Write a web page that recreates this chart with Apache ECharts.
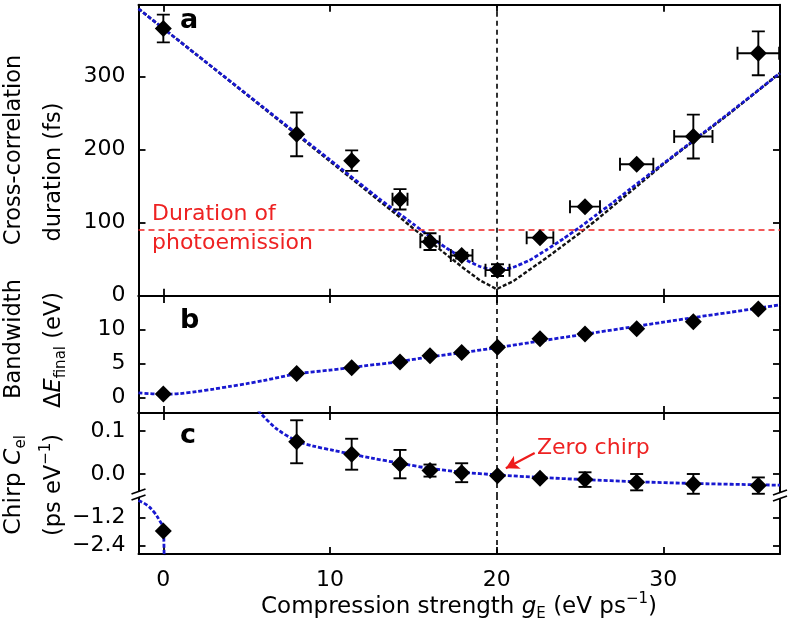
<!DOCTYPE html>
<html><head><meta charset="utf-8">
<script src="https://cdn.jsdelivr.net/npm/echarts@6/dist/echarts.min.js"></script>
<style>html,body{margin:0;padding:0;background:#fff}#c{width:788px;height:633px}</style>
</head><body><div id="c"></div>
<script>
// ---- data ----
const gE        = [0, 8.0, 11.3, 14.2, 16.0, 17.9, 20.05, 22.6, 25.3, 28.4, 31.8, 35.7];
const gEerr     = [0, 0, 0, 0.45, 0.58, 0.65, 0.72, 0.8, 0.9, 1.0, 1.15, 1.25];
const duration  = [366, 221, 185, 132, 74, 55, 35, 79.5, 122, 180, 218, 332];
const durationErr = [19, 30, 14, 14, 11.5, 4, 8, 0, 0, 0, 30, 30];
const bandwidth = [0.5, 3.5, 4.35, 5.2, 6.1, 6.6, 7.35, 8.6, 9.3, 10.1, 11.1, 13.0];
const chirp     = [-1.78, 0.075, 0.046, 0.023, 0.008, 0.003, -0.004, -0.01, -0.013, -0.019, -0.023, -0.027];
const chirpErr  = [0, 0.05, 0.036, 0.033, 0.014, 0.022, 0, 0, 0.017, 0.019, 0.023, 0.019];

const durFitX   = [-1.49, 2, 6, 10, 13, 14, 15, 16, 17, 18, 19, 20, 21, 22, 23, 24, 25, 26, 27, 28, 30, 32, 34, 37];
const durFitBlue  = [393, 330, 258, 186, 132, 115, 98, 81, 65, 51, 40, 35, 39, 49, 63, 78, 94, 111, 128, 146, 181, 216, 251, 305];
const durFitBlack = [393, 330, 257, 184, 129, 111, 92, 74, 56, 38, 21, 9, 20, 36, 52, 69, 86, 104, 123, 142, 180, 215, 250, 305];

const bwFitX = [-1.49, 0, 1, 2, 3, 4, 5, 6, 8, 10, 12, 14, 16, 18, 20, 22, 24, 26, 28, 30, 32, 34, 37];
const bwFitY = [0.65, 0.45, 0.55, 0.85, 1.2, 1.6, 2.0, 2.45, 3.45, 4.0, 4.6, 5.2, 5.95, 6.6, 7.3, 8.05, 8.8, 9.55, 10.3, 11.05, 11.8, 12.5, 13.6];

const chirpFitX = [5.5, 5.82, 6.8, 8, 9, 10.2, 11.3, 12.5, 14.2, 16, 18, 20, 22.6, 25.3, 28.4, 31.8, 37];
const chirpFitY = [0.16, 0.142, 0.105, 0.077, 0.065, 0.055, 0.046, 0.037, 0.025, 0.013, 0.004, -0.002, -0.008, -0.013, -0.018, -0.022, -0.026];
const chirpLowX = [-1.49, -1.0, -0.58, -0.18, 0.0, 0.02, 0.035, 0.05];
const chirpLowY = [-0.47, -0.66, -0.95, -1.38, -1.62, -1.78, -2.3, -2.9];

const xTicks = [0, 10, 20, 30];
const yTicksA = [0, 100, 200, 300];
const yTicksB = [0, 5, 10];
const yTicksC = [0, 0.1];
const yTicksCLow = [-2.4, -1.2];
const photoemission = 90;
const zeroChirpX = 20;

// ---- layout ----
const F = 'DejaVu Sans';
const L = 138.5, W = 641.5;
const XMIN = -1.49, XMAX = 37.0;
const grids = [
  {left: L, top: 4.7, width: W, height: 291},
  {left: L, top: 296, width: W, height: 117},
  {left: L, top: 413, width: W, height: 84},
  {left: L, top: 497, width: W, height: 57}
];
const yRanges = [[0, 398.6], [-2.31, 14.9], [-0.0535, 0.1419], [-2.764, -0.321]];
const yTickSets = [yTicksA, yTicksB, yTicksC, yTicksCLow];
const yFmt = [
  v => String(v), v => String(v), v => v.toFixed(1),
  v => (v < 0 ? '\u2212' : '') + Math.abs(v).toFixed(1)
];

const lab = {fontFamily: F, fontSize: 22, color: '#000'};

const xAxis = [], yAxis = [];
grids.forEach((g, i) => {
  ['bottom', 'top'].forEach(pos => {
    const hidden = (i === 2 && pos === 'bottom') || (i === 3 && pos === 'top');
    xAxis.push({
      type: 'value', gridIndex: i, position: pos, min: XMIN, max: XMAX,
      splitLine: {show: false},
      axisLine: {show: !hidden, onZero: false, lineStyle: {color: '#000', width: 2}},
      axisTick: {show: !hidden, inside: true, length: 7, lineStyle: {color: '#000', width: 1.8}, customValues: xTicks},
      axisLabel: Object.assign({show: i === 3 && pos === 'bottom', margin: 15, customValues: xTicks}, lab)
    });
  });
  ['left', 'right'].forEach(pos => {
    yAxis.push({
      type: 'value', gridIndex: i, position: pos, min: yRanges[i][0], max: yRanges[i][1],
      splitLine: {show: false},
      axisLine: {show: true, onZero: false, lineStyle: {color: '#000', width: 2}},
      axisTick: {show: true, inside: true, length: 7, lineStyle: {color: '#000', width: 1.8}, customValues: yTickSets[i]},
      axisLabel: Object.assign({show: pos === 'left', margin: 13, customValues: yTickSets[i], formatter: yFmt[i]}, lab)
    });
  });
});

const zip = (xs, ys) => xs.map((x, k) => [x, ys[k]]);
const blue = {color: '#1818d0', width: 2.8, type: [4, 2]};
const vline = {
  silent: true, symbol: 'none', animation: false, label: {show: false},
  lineStyle: {color: '#000', width: 1.6, type: [5, 4]},
  data: [{xAxis: zeroChirpX}]
};
const diamond = (xi, yi, data) => ({
  type: 'scatter', xAxisIndex: xi, yAxisIndex: yi, data, symbol: 'diamond', symbolSize: [17, 17],
  itemStyle: {color: '#000', opacity: 1}, z: 6, silent: true
});
const errBars = (xi, yi, data) => ({
  type: 'custom', xAxisIndex: xi, yAxisIndex: yi, data, z: 5, silent: true, clip: true,
  renderItem: (params, api) => {
    const x = api.value(0), y = api.value(1), ex = api.value(2), ey = api.value(3);
    const c = api.coord([x, y]);
    const st = {stroke: '#000', lineWidth: 1.9, opacity: 1};
    const ch = [];
    const cap = 6.5;
    if (ey > 0) {
      const t = api.coord([x, y + ey]), b = api.coord([x, y - ey]);
      ch.push({type: 'line', shape: {x1: c[0], y1: t[1], x2: c[0], y2: b[1]}, style: st});
      ch.push({type: 'line', shape: {x1: c[0] - cap, y1: t[1], x2: c[0] + cap, y2: t[1]}, style: st});
      ch.push({type: 'line', shape: {x1: c[0] - cap, y1: b[1], x2: c[0] + cap, y2: b[1]}, style: st});
    }
    if (ex > 0) {
      const l = api.coord([x - ex, y]), r = api.coord([x + ex, y]);
      ch.push({type: 'line', shape: {x1: l[0], y1: c[1], x2: r[0], y2: c[1]}, style: st});
      ch.push({type: 'line', shape: {x1: l[0], y1: c[1] - cap, x2: l[0], y2: c[1] + cap}, style: st});
      ch.push({type: 'line', shape: {x1: r[0], y1: c[1] - cap, x2: r[0], y2: c[1] + cap}, style: st});
    }
    return {type: 'group', children: ch};
  }
});

const idxUp = gE.map((_, k) => k).filter(k => k > 0);
const series = [
  {type: 'line', xAxisIndex: 0, yAxisIndex: 0, data: zip(durFitX, durFitBlack), showSymbol: false, silent: true,
   lineStyle: {color: '#111', width: 2.4, type: [4, 2]}, z: 2, markLine: vline},
  {type: 'line', xAxisIndex: 0, yAxisIndex: 0, data: zip(durFitX, durFitBlue), showSymbol: false, silent: true, smooth: 0.2,
   lineStyle: blue, z: 3,
   markLine: {silent: true, symbol: 'none', animation: false, label: {show: false},
     lineStyle: {color: '#ee2222', width: 1.5, type: [6, 4]}, data: [{yAxis: photoemission}]}},
  errBars(0, 0, gE.map((x, k) => [x, duration[k], gEerr[k], durationErr[k]])),
  diamond(0, 0, zip(gE, duration)),

  {type: 'line', xAxisIndex: 2, yAxisIndex: 2, data: zip(bwFitX, bwFitY), showSymbol: false, silent: true, smooth: 0.3,
   lineStyle: blue, z: 3, markLine: vline},
  diamond(2, 2, zip(gE, bandwidth)),

  {type: 'line', xAxisIndex: 4, yAxisIndex: 4, data: zip(chirpFitX, chirpFitY), showSymbol: false, silent: true, smooth: 0.3,
   lineStyle: blue, z: 3, markLine: vline},
  {type: 'line', xAxisIndex: 4, yAxisIndex: 4, data: [], silent: true,
   markLine: {silent: true, animation: false, symbol: ['none', 'arrow'], symbolSize: [11, 13], label: {show: false},
     lineStyle: {color: '#ee1c1c', width: 2.2, type: 'solid'},
     data: [[{coord: [22.28, 0.0488]}, {coord: [20.55, 0.0135]}]]}},
  errBars(4, 4, idxUp.map(k => [gE[k], chirp[k], 0, chirpErr[k]])),
  diamond(4, 4, idxUp.map(k => [gE[k], chirp[k]])),

  {type: 'line', xAxisIndex: 6, yAxisIndex: 6, data: zip(chirpLowX, chirpLowY), showSymbol: false, silent: true, smooth: 0.4,
   lineStyle: blue, z: 3, markLine: vline},
  diamond(6, 6, [[gE[0], chirp[0]]])
];

const rich = fs => ({
  n: {fontFamily: F, fontSize: fs, fill: '#000', lineHeight: 30},
  i: {fontFamily: F, fontSize: fs, fill: '#000', fontStyle: 'italic', lineHeight: 30},
  s: {fontFamily: F, fontSize: 15, fill: '#000', lineHeight: 15, verticalAlign: 'bottom'},
  p: {fontFamily: F, fontSize: 15, fill: '#000', lineHeight: 15, verticalAlign: 'top'}
});
const rotText = (x, y, text, fs) => ({
  type: 'text', x, y, rotation: Math.PI / 2, z: 100, silent: true,
  style: {text, rich: rich(fs || 22.5), fontFamily: F, fontSize: fs || 22.5, fill: '#000', align: 'center', verticalAlign: 'middle'}
});
const plainText = (x, y, text, opts) => ({
  type: 'text', x, y, z: 100, silent: true,
  style: Object.assign({text, fontFamily: F, fontSize: 22, fill: '#000', align: 'left', verticalAlign: 'middle'}, opts || {})
});
const breakMark = (cx, cy) => ([
  {type: 'polygon', z: 99, silent: true, shape: {points: [[cx - 7, cy + 0.5], [cx + 7, cy - 4.5], [cx + 7, cy + 0.5], [cx - 7, cy + 5.5]]}, style: {fill: '#fff'}},
  {type: 'line', z: 100, silent: true, shape: {x1: cx - 7, y1: cy, x2: cx + 7, y2: cy - 5}, style: {stroke: '#000', lineWidth: 1.8}},
  {type: 'line', z: 100, silent: true, shape: {x1: cx - 7, y1: cy + 6, x2: cx + 7, y2: cy + 1}, style: {stroke: '#000', lineWidth: 1.8}}
]);

const bTop = grids[3].top;
const graphic = [
  rotText(14, 150, '{n|Cross-correlation}'),
  rotText(54, 172, '{n|duration (fs)}'),
  rotText(14, 339, '{n|Bandwidth}'),
  rotText(54, 350, '{n|\u0394}{i|E}{s|final}{n| (eV)}'),
  rotText(14, 485, '{n|Chirp }{i|C}{s|el}', 23.5),
  rotText(54, 485, '{n|(ps eV}{p|\u22121}{n|)}'),
  {type: 'text', x: 459, y: 607, z: 100, silent: true,
   style: {text: '{n|Compression strength }{i|g}{s|E}{n| (eV ps}{p|\u22121}{n|)}', rich: rich(23), fontFamily: F, fontSize: 23, fill: '#000', align: 'center', verticalAlign: 'middle'}},
  plainText(180, 21, 'a', {fontWeight: 'bold', fontSize: 27}),
  plainText(180, 321, 'b', {fontWeight: 'bold', fontSize: 27}),
  plainText(180, 436, 'c', {fontWeight: 'bold', fontSize: 27}),
  plainText(152, 214, 'Duration of', {fill: '#ee2222'}),
  plainText(152, 243, 'photoemission', {fill: '#ee2222'}),
  plainText(537, 448, 'Zero chirp', {fill: '#ee2222'})
].concat(breakMark(L, bTop - 3), breakMark(L + W, bTop - 2));

const chart = echarts.init(document.getElementById('c'));
chart.setOption({
  animation: false,
  backgroundColor: '#fff',
  grid: grids.map(g => Object.assign({containLabel: false, outerBoundsMode: 'none'}, g)),
  xAxis, yAxis, series, graphic
});
</script></body></html>
